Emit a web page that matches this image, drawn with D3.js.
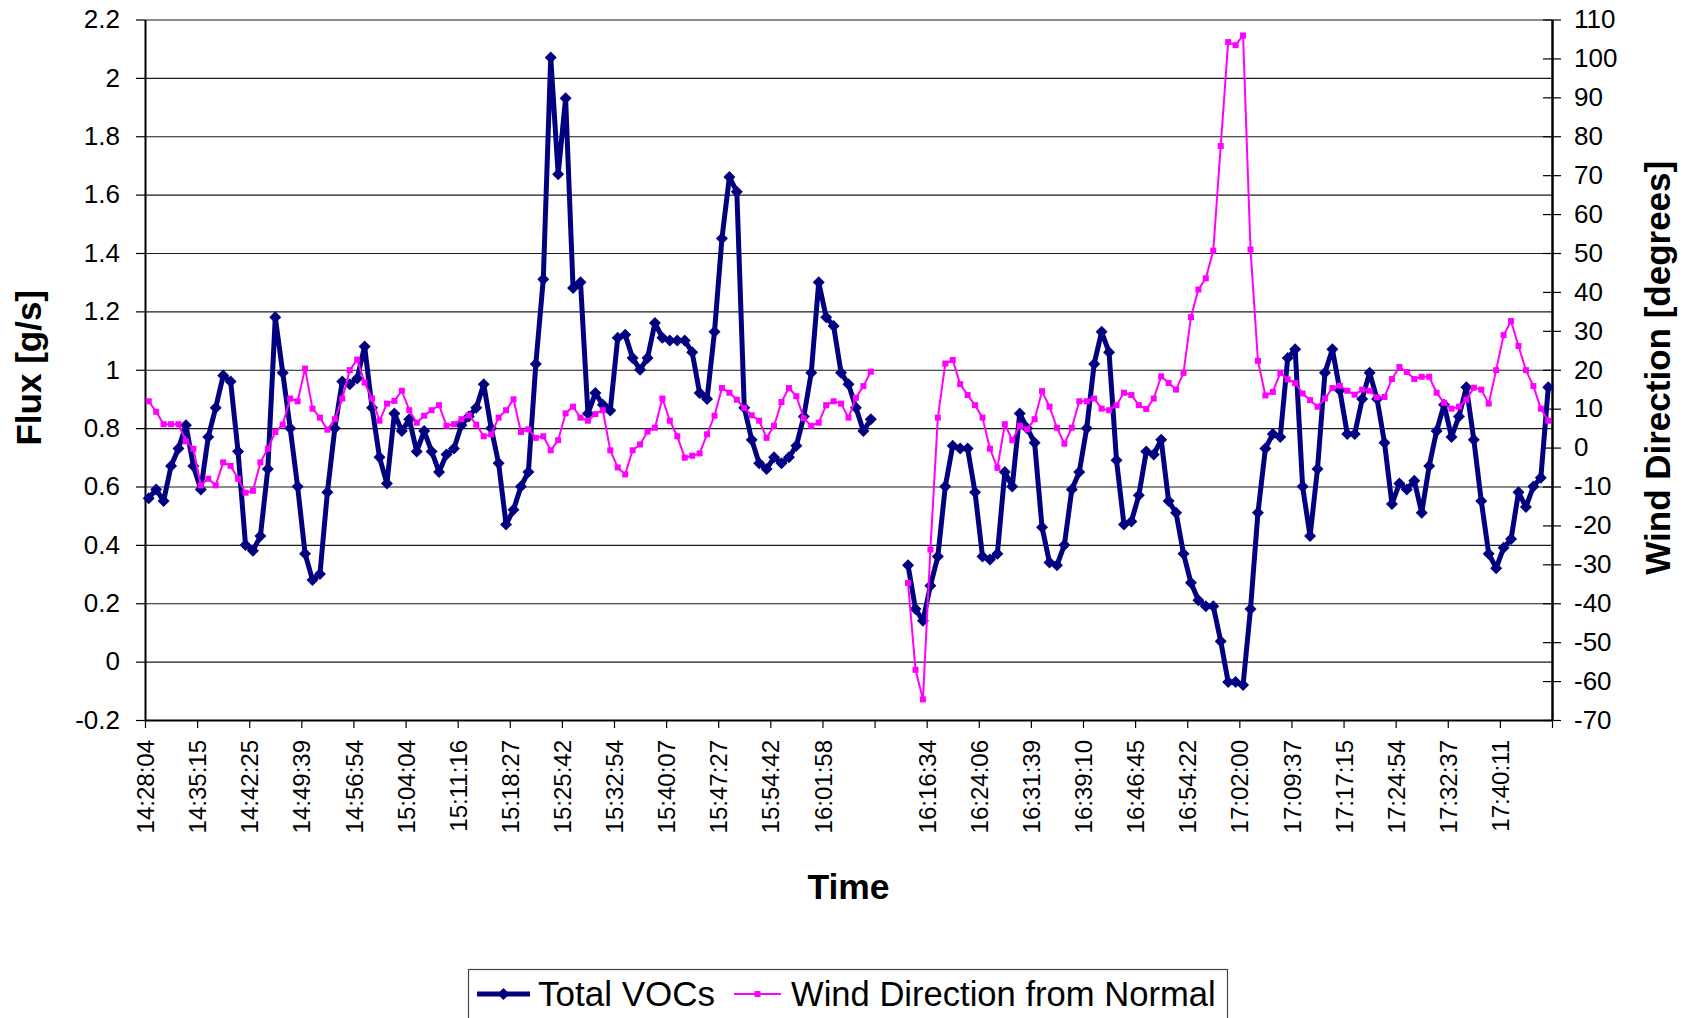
<!DOCTYPE html>
<html><head><meta charset="utf-8">
<script src="https://cdn.jsdelivr.net/npm/d3@7"></script>
<style>body{margin:0;background:#fff}svg{display:block;font-family:"Liberation Sans",Arial,sans-serif}</style>
</head><body>
<script>
// ---- data ----
const timeLabels = ["14:28:04","14:35:15","14:42:25","14:49:39","14:56:54","15:04:04","15:11:16",
  "15:18:27","15:25:42","15:32:54","15:40:07","15:47:27","15:54:42","16:01:58","",
  "16:16:34","16:24:06","16:31:39","16:39:10","16:46:45","16:54:22","17:02:00","17:09:37",
  "17:17:15","17:24:54","17:32:37","17:40:11"];
const fluxTicks = [-0.2,0,0.2,0.4,0.6,0.8,1,1.2,1.4,1.6,1.8,2,2.2];
const fluxTickLabels = ["-0.2","0","0.2","0.4","0.6","0.8","1","1.2","1.4","1.6","1.8","2","2.2"];
const windTicks = [-70,-60,-50,-40,-30,-20,-10,0,10,20,30,40,50,60,70,80,90,100,110];
const windTickLabels = ["-70","-60","-50","-40","-30","-20","-10","0","10","20","30","40","50","60","70","80","90","100","110"];
const seriesNames = ["Total VOCs","Wind Direction from Normal"];

const voc = [0.56,0.59,0.55,0.67,0.73,0.81,0.67,0.59,0.77,0.87,
0.98,0.96,0.72,0.40,0.38,0.43,0.66,1.18,0.99,0.80,
0.60,0.37,0.28,0.30,0.58,0.80,0.96,0.95,0.97,1.08,
0.87,0.70,0.61,0.85,0.79,0.83,0.72,0.79,0.72,0.65,
0.71,0.73,0.81,0.84,0.87,0.95,0.80,0.68,0.47,0.52,
0.60,0.65,1.02,1.31,2.07,1.67,1.93,1.28,1.30,0.85,
0.92,0.88,0.86,1.11,1.12,1.04,1.00,1.04,1.16,1.11,
1.10,1.10,1.10,1.06,0.92,0.90,1.13,1.45,1.66,1.61,
0.87,0.76,0.68,0.66,0.70,0.68,0.70,0.74,0.84,0.99,
1.30,1.18,1.15,0.99,0.95,0.87,0.79,0.83,null,null,
null,null,0.33,0.18,0.14,0.26,0.36,0.60,0.74,0.73,
0.73,0.58,0.36,0.35,0.37,0.65,0.60,0.85,0.80,0.75,
0.46,0.34,0.33,0.40,0.59,0.65,0.80,1.02,1.13,1.06,
0.69,0.47,0.48,0.57,0.72,0.71,0.76,0.55,0.51,0.37,
0.27,0.21,0.19,0.19,0.07,-0.07,-0.07,-0.08,0.18,0.51,
0.73,0.78,0.77,1.04,1.07,0.60,0.43,0.66,0.99,1.07,
0.93,0.78,0.78,0.90,0.99,0.90,0.75,0.54,0.61,0.59,
0.62,0.51,0.67,0.79,0.88,0.77,0.84,0.94,0.76,0.55,
0.37,0.32,0.39,0.42,0.58,0.53,0.60,0.63,0.94];

const wind = [11.9,9.2,6.0,6.0,6.0,1.6,-0.3,-9.7,-8.0,-9.7,
-3.8,-4.7,-8.0,-11.6,-11.1,-3.8,-0.3,4.0,5.9,12.6,
11.9,20.3,10.0,7.7,4.6,7.3,12.6,19.9,22.6,16.7,
12.6,6.9,11.3,12.0,14.6,9.6,6.4,8.2,9.6,10.9,
5.6,6.0,7.3,8.3,5.9,2.9,3.4,7.7,9.6,12.4,
4.0,4.7,2.5,2.9,-0.7,1.9,8.8,10.5,7.7,6.9,
8.6,9.6,-0.7,-5.1,-6.9,-0.7,0.8,4.1,5.1,12.6,
6.9,2.9,-2.6,-2.1,-1.5,3.4,8.2,15.3,14.1,12.3,
10.2,8.3,6.9,2.5,5.6,11.7,15.3,13.2,7.5,5.6,
6.4,10.9,11.9,11.3,7.7,12.8,15.8,19.5,null,null,
null,null,-34.8,-57.1,-64.7,-26.2,7.7,21.6,22.5,16.3,
13.5,10.9,7.7,-0.3,-5.2,6.0,1.9,5.6,4.7,7.3,
14.5,10.5,5.1,1.0,5.1,11.9,11.9,12.6,10.0,9.6,
10.9,14.1,13.5,10.9,9.9,12.6,18.3,16.6,14.9,19.2,
33.5,40.6,43.5,50.6,77.5,104.2,103.4,105.9,50.9,22.3,
13.4,14.3,19.2,17.5,16.6,13.9,12.2,10.5,12.6,15.3,
15.9,14.6,13.6,14.9,14.6,12.9,13.0,17.6,20.7,19.4,
17.6,18.2,18.2,14.1,11.5,10.0,10.5,12.3,15.4,14.9,
11.3,19.9,28.9,32.5,26.1,19.9,15.8,10.0,6.9];

// ---- layout ----
const W = 1692, H = 1018;
const L = 145, R = 1552, T = 19.5, B = 720;
const N = voc.length;
const NAVY = "#000080", MAG = "#FF00FF";
const FONT = '"Liberation Sans", Arial, sans-serif';

const svg = d3.select("body").append("svg").attr("width", W).attr("height", H)
  .style("background", "#fff");

const xEdge = d3.scaleLinear().domain([0, N]).range([L, R]);
const xc = i => xEdge(i + 0.5);
const yL = d3.scaleLinear().domain([-0.2, 2.2]).range([B, T]);
const yR = d3.scaleLinear().domain([-70, 110]).range([B, T]);

// gridlines
const grid = svg.append("g").attr("transform", `translate(${L},0)`)
  .call(d3.axisLeft(yL).tickValues(fluxTicks).tickSize(-(R - L)).tickFormat(""));
grid.select(".domain").remove();
grid.selectAll("line").attr("stroke", "#1a1a1a").attr("stroke-width", 1.2);

// left axis
const ax = svg.append("g").attr("transform", `translate(${L},0)`)
  .call(d3.axisLeft(yL).tickValues(fluxTicks).tickFormat((d, i) => fluxTickLabels[i])
    .tickSize(9).tickSizeOuter(0).tickPadding(16));
ax.attr("font-size", 26).attr("font-family", FONT);
ax.select(".domain").attr("stroke", "#000").attr("stroke-width", 2);
ax.selectAll(".tick line").attr("stroke", "#000").attr("stroke-width", 1.2);
ax.selectAll("text").attr("fill", "#000");

// right axis
const ar = svg.append("g").attr("transform", `translate(${R},0)`)
  .call(d3.axisRight(yR).tickValues(windTicks).tickFormat((d, i) => windTickLabels[i])
    .tickSize(9).tickSizeOuter(0).tickPadding(13));
ar.attr("font-size", 26).attr("font-family", FONT);
ar.select(".domain").attr("stroke", "#000").attr("stroke-width", 2.5);
ar.selectAll(".tick line").attr("x1", -9).attr("x2", 9).attr("stroke", "#000").attr("stroke-width", 1.2);
ar.selectAll("text").attr("fill", "#000");

// bottom axis
const ab = svg.append("g").attr("transform", `translate(0,${B})`)
  .call(d3.axisBottom(xEdge).tickValues(d3.range(0, N + 1, 7))
    .tickFormat(d => timeLabels[d / 7] || "").tickSize(8).tickSizeOuter(0));
ab.attr("font-size", 24).attr("font-family", FONT);
ab.select(".domain").attr("stroke", "#000").attr("stroke-width", 2);
ab.selectAll(".tick line").attr("stroke", "#000").attr("stroke-width", 1.2);
ab.selectAll("text").attr("fill", "#000")
  .attr("transform", "rotate(-90)").attr("x", -20).attr("y", 0).attr("dy", "0.36em")
  .style("text-anchor", "end");

// series: VOC (primary)
const lineV = d3.line().defined(d => d != null).x((d, i) => xc(i)).y(d => yL(d));
svg.append("path").datum(voc).attr("d", lineV).attr("fill", "none")
  .attr("stroke", NAVY).attr("stroke-width", 5).attr("stroke-linejoin", "round");
const diamond = "M0,-6L6,0L0,6L-6,0Z";
svg.append("g").selectAll("path").data(voc.map((v, i) => [i, v]).filter(d => d[1] != null))
  .join("path").attr("d", diamond)
  .attr("transform", d => `translate(${xc(d[0])},${yL(d[1])})`).attr("fill", NAVY);

// series: wind (secondary)
const lineW = d3.line().defined(d => d != null).x((d, i) => xc(i)).y(d => yR(d));
svg.append("path").datum(wind).attr("d", lineW).attr("fill", "none")
  .attr("stroke", MAG).attr("stroke-width", 2).attr("stroke-linejoin", "round");
svg.append("g").selectAll("rect").data(wind.map((v, i) => [i, v]).filter(d => d[1] != null))
  .join("rect").attr("x", d => xc(d[0]) - 3).attr("y", d => yR(d[1]) - 3)
  .attr("width", 6).attr("height", 6).attr("fill", MAG);

// axis titles
svg.append("text").attr("transform", `translate(41,${(T + B) / 2 - 2}) rotate(-90)`)
  .attr("text-anchor", "middle").attr("font-family", FONT).attr("font-weight", "bold")
  .attr("font-size", 35).text("Flux [g/s]");
svg.append("text").attr("transform", `translate(1670,${(T + B) / 2 - 2}) rotate(-90)`)
  .attr("text-anchor", "middle").attr("font-family", FONT).attr("font-weight", "bold")
  .attr("font-size", 35).text("Wind Direction [degrees]");
svg.append("text").attr("x", (L + R) / 2).attr("y", 899)
  .attr("text-anchor", "middle").attr("font-family", FONT).attr("font-weight", "bold")
  .attr("font-size", 35.5).text("Time");

// legend
const lg = svg.append("g");
lg.append("rect").attr("x", 468.5).attr("y", 969.5).attr("width", 759).attr("height", 70)
  .attr("fill", "#fff").attr("stroke", "#444").attr("stroke-width", 1.2);
const ly = 994;
lg.append("line").attr("x1", 477).attr("x2", 530).attr("y1", ly).attr("y2", ly)
  .attr("stroke", NAVY).attr("stroke-width", 5);
lg.append("path").attr("d", diamond).attr("transform", `translate(503.5,${ly})`).attr("fill", NAVY);
lg.append("text").attr("x", 538).attr("y", 1006).attr("font-family", FONT)
  .attr("font-size", 35).text(seriesNames[0]);
lg.append("line").attr("x1", 734).attr("x2", 781).attr("y1", ly).attr("y2", ly)
  .attr("stroke", MAG).attr("stroke-width", 2);
lg.append("rect").attr("x", 757.5 - 3).attr("y", ly - 3).attr("width", 6).attr("height", 6).attr("fill", MAG);
lg.append("text").attr("x", 791).attr("y", 1006).attr("font-family", FONT)
  .attr("font-size", 34.6).text(seriesNames[1]);
</script>
</body></html>
